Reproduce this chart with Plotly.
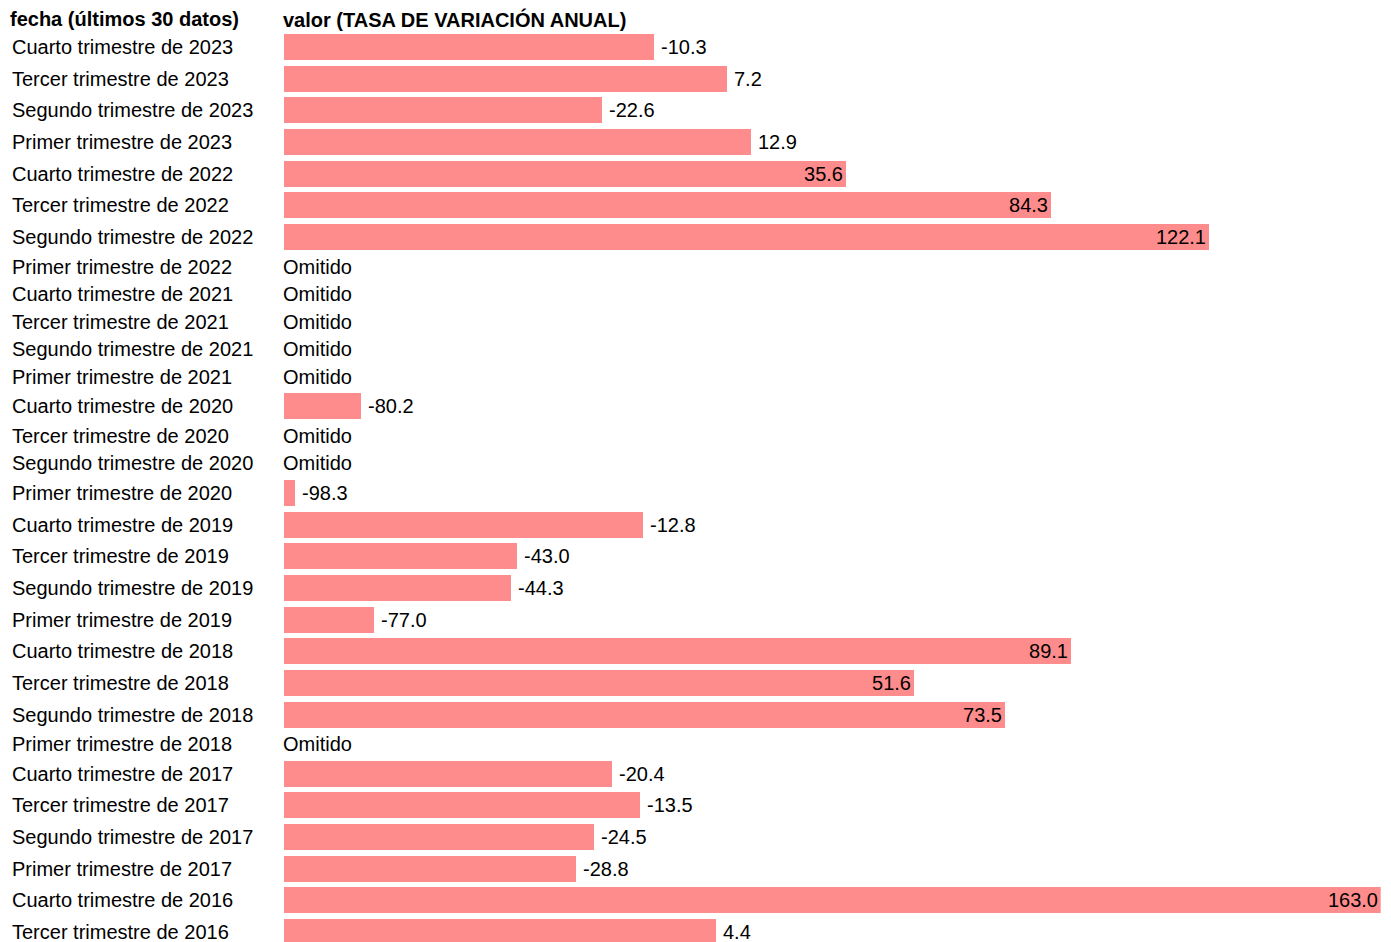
import numpy as np
import plotly.graph_objects as go

# ---------------- data ----------------
fechas = [
    "Cuarto trimestre de 2023", "Tercer trimestre de 2023", "Segundo trimestre de 2023", "Primer trimestre de 2023",
    "Cuarto trimestre de 2022", "Tercer trimestre de 2022", "Segundo trimestre de 2022", "Primer trimestre de 2022",
    "Cuarto trimestre de 2021", "Tercer trimestre de 2021", "Segundo trimestre de 2021", "Primer trimestre de 2021",
    "Cuarto trimestre de 2020", "Tercer trimestre de 2020", "Segundo trimestre de 2020", "Primer trimestre de 2020",
    "Cuarto trimestre de 2019", "Tercer trimestre de 2019", "Segundo trimestre de 2019", "Primer trimestre de 2019",
    "Cuarto trimestre de 2018", "Tercer trimestre de 2018", "Segundo trimestre de 2018", "Primer trimestre de 2018",
    "Cuarto trimestre de 2017", "Tercer trimestre de 2017", "Segundo trimestre de 2017", "Primer trimestre de 2017",
    "Cuarto trimestre de 2016", "Tercer trimestre de 2016",
]
valores = [
    -10.3, 7.2, -22.6, 12.9,
    35.6, 84.3, 122.1, None,
    None, None, None, None,
    -80.2, None, None, -98.3,
    -12.8, -43.0, -44.3, -77.0,
    89.1, 51.6, 73.5, None,
    -20.4, -13.5, -24.5, -28.8,
    163.0, 4.4,
]
encabezado_fecha = "fecha (últimos 30 datos)"
encabezado_valor = "valor (TASA DE VARIACIÓN ANUAL)"
texto_omitido = "Omitido"

# ---------------- layout constants ----------------
W, H = 1391, 942
FONT = "Liberation Sans, Arial, Helvetica, sans-serif"
FS = 20
BAR_COLOR = "#FF8C8C"
BASE = -98.5           # value at the left edge of the bar column
X_MAX = 163.0          # value at the right edge of the bar column
MIN_LEN = 2.6          # minimum visible bar length (value units)
ROW_BAR, ROW_OMIT = 31.67, 27.5
BAR_THICK = 26
TOP = 47 - ROW_BAR / 2  # px, top of the first table row
INSIDE_MIN = 20
OUT_GAP = 7            # px between bar end and an outside label
COL2_LEFT, COL2_RIGHT = 284, 1380.7
LABEL_X = 12
HEADER_Y = 19

is_omit = [v is None for v in valores]
heights = np.array([ROW_OMIT if o else ROW_BAR for o in is_omit])
centers = TOP + np.cumsum(heights) - heights / 2

bar_idx = [i for i, v in enumerate(valores) if v is not None]
bar_y = centers[bar_idx]
bar_vals = np.array([valores[i] for i in bar_idx], dtype=float)
bar_len = np.maximum(bar_vals - BASE, MIN_LEN)
bar_text = [f"{v:.1f}" for v in bar_vals]
inside = bar_vals > INSIDE_MIN

fig = go.Figure()
fig.add_trace(go.Bar(
    orientation="h",
    x=bar_len,
    y=bar_y,
    base=BASE,
    width=BAR_THICK,
    marker=dict(color=BAR_COLOR, line=dict(width=0)),
    text=[t if ins else "" for t, ins in zip(bar_text, inside)],
    textposition="inside",
    insidetextanchor="end",
    textangle=0,
    constraintext="none",
    cliponaxis=False,
    insidetextfont=dict(family=FONT, size=FS, color="#000000"),
    customdata=np.stack([[fechas[i] for i in bar_idx], bar_text], axis=-1),
    hovertemplate="%{customdata[0]}: %{customdata[1]}<extra></extra>",
    showlegend=False,
))

common = dict(showarrow=False, borderpad=0, borderwidth=0, yanchor="middle",
              font=dict(family=FONT, size=FS, color="#000000"))
annotations = []
# headers
annotations.append(dict(text=f"<b>{encabezado_fecha}</b>", xref="paper", x=(LABEL_X - 2) / W,
                        yref="y", y=HEADER_Y, xanchor="left", **common))
annotations.append(dict(text=f"<b>{encabezado_valor}</b>", xref="paper", x=(COL2_LEFT - 1) / W,
                        yref="y", y=HEADER_Y, xanchor="left", **common))
# row labels
for f, yc in zip(fechas, centers):
    annotations.append(dict(text=f, xref="paper", x=LABEL_X / W, yref="y", y=yc, xanchor="left", **common))
# omitted rows
for i, o in enumerate(is_omit):
    if o:
        annotations.append(dict(text=texto_omitido, xref="paper", x=(COL2_LEFT - 1) / W, yref="y",
                                y=centers[i], xanchor="left", **common))
# outside value labels
for t, ln, yc, ins in zip(bar_text, bar_len, bar_y, inside):
    if not ins:
        annotations.append(dict(text=t, xref="x", x=BASE + ln, xshift=OUT_GAP, yref="y", y=yc,
                                xanchor="left", **common))

fig.update_layout(
    width=W, height=H,
    margin=dict(l=0, r=0, t=0, b=0, pad=0),
    paper_bgcolor="white", plot_bgcolor="white",
    xaxis=dict(domain=[COL2_LEFT / W, COL2_RIGHT / W], range=[BASE, X_MAX], visible=False, fixedrange=True),
    yaxis=dict(domain=[0, 1], range=[H, 0], visible=False, fixedrange=True),
    annotations=annotations,
    bargap=0,
    font=dict(family=FONT, size=FS, color="#000000"),
)

fig.write_html("out.html", config={"displayModeBar": False},
               post_script="document.body.style.margin='0';document.body.style.overflow='hidden';")
